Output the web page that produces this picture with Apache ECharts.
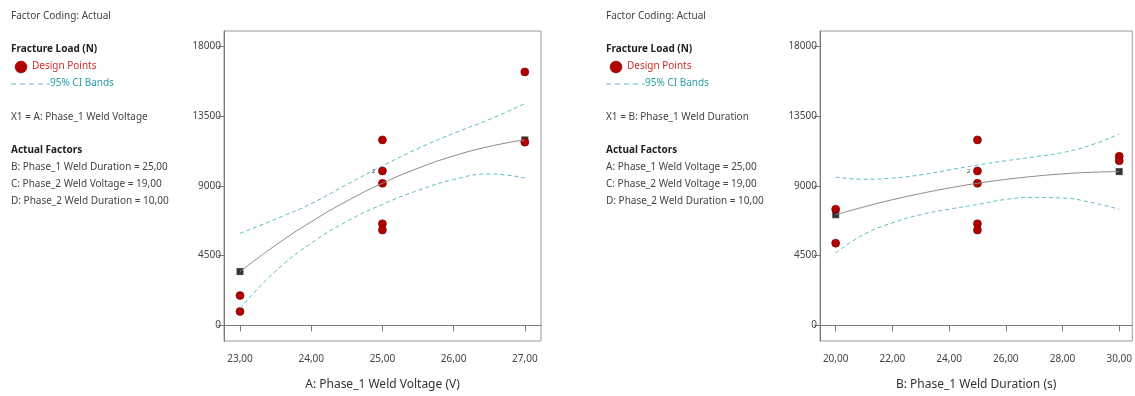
<!DOCTYPE html>
<html>
<head>
<meta charset="utf-8">
<script src="https://cdn.jsdelivr.net/npm/echarts@6/dist/echarts.min.js"></script>
<style>
  html, body { margin: 0; padding: 0; background: #fff; }
  #chart { width: 1135px; height: 396px; }
</style>
</head>
<body>
<div id="chart"></div>
<script>
// ---- data ----
var yTicks = [0, 4500, 9000, 13500, 18000];

// panel A: Phase_1 Weld Voltage
var xTicksA = [23, 24, 25, 26, 27];
var designXA = [23, 23, 25, 25, 25, 25, 25, 27, 27];
var designYA = [1930, 900, 11956, 9955, 9158, 6550, 6145, 16333, 11811];
var designCountA = [1, 1, 1, 2, 1, 1, 1, 1, 1];
var predXA = [23, 27];
var predYA = [3474, 11956];
var curveXA = [23, 23.5, 24, 24.5, 25, 25.5, 26, 26.5, 27];
var fitA = [3470, 5170, 6680, 8010, 9160, 10130, 10920, 11530, 11960];
var upperA = [5940, 6850, 7850, 9080, 10280, 11400, 12380, 13270, 14300];
var lowerA = [1100, 3500, 5300, 6700, 7800, 8700, 9400, 9760, 9500];

// panel B: Phase_1 Weld Duration
var xTicksB = [20, 22, 24, 26, 28, 30];
var designXB = [20, 20, 25, 25, 25, 25, 25, 30, 30];
var designYB = [7490, 5305, 11956, 9955, 9158, 6550, 6145, 10901, 10611];
var designCountB = [1, 1, 1, 2, 1, 1, 1, 1, 1];
var predXB = [20, 30];
var predYB = [7137, 9916];
var curveXB = [20, 21, 22, 23, 24, 25, 26, 27, 28, 29, 30];
var fitB = [7137, 7640, 8100, 8500, 8855, 9158, 9410, 9610, 9765, 9865, 9916];
var upperB = [9557, 9420, 9493, 9702, 10017, 10333, 10611, 10863, 11135, 11621, 12335];
var lowerB = [4674, 5874, 6607, 7137, 7490, 7790, 8122, 8248, 8210, 7932, 7490];

var infoA = {
  x1: "X1 = A: Phase_1 Weld Voltage",
  factors: ["B: Phase_1 Weld Duration = 25,00", "C: Phase_2 Weld Voltage = 19,00", "D: Phase_2 Weld Duration = 10,00"]
};
var infoB = {
  x1: "X1 = B: Phase_1 Weld Duration",
  factors: ["A: Phase_1 Weld Voltage = 25,00", "C: Phase_2 Weld Voltage = 19,00", "D: Phase_2 Weld Duration = 10,00"]
};

var FONT = "'Noto Sans', 'Open Sans', sans-serif";
var RED = "#b30000";
var TEAL = "#5cbcc2";

function zip(xs, ys) {
  return xs.map(function (x, i) { return [x, ys[i]]; });
}

function designData(xs, ys, counts) {
  return xs.map(function (x, i) {
    var item = { value: [x, ys[i]] };
    if (counts[i] > 1) {
      item.label = {
        show: true, position: "left", distance: 3,
        formatter: String(counts[i]), fontSize: 6, color: "#444", fontFamily: FONT
      };
    }
    return item;
  });
}

// text block left of each plot
function sideText(x0, info) {
  var t = function (x, y, text, opt) {
    return {
      type: "text", left: x, top: y,
      style: Object.assign({
        text: text, fontSize: 10, fontFamily: FONT, fill: "#444",
        verticalAlign: "middle"
      }, opt || {})
    };
  };
  var els = [
    t(x0, 11, "Factor Coding: Actual"),
    t(x0, 44, "Fracture Load (N)", { fontWeight: "bold", fill: "#222" }),
    {
      type: "circle", shape: { cx: x0 + 10, cy: 67, r: 6 },
      style: { fill: RED, stroke: "#700", lineWidth: 0.5 }
    },
    t(x0 + 21, 61, "Design Points", { fill: "#d42a2a" }),
    {
      type: "line", shape: { x1: x0, y1: 84, x2: x0 + 39, y2: 84 },
      style: { stroke: TEAL, lineWidth: 1, lineDash: [5, 4] }
    },
    t(x0 + 39, 78, "95% CI Bands", { fill: "#2a9ea4" }),
    t(x0, 112, info.x1),
    t(x0, 145, "Actual Factors", { fontWeight: "bold", fill: "#222" })
  ];
  info.factors.forEach(function (f, i) {
    els.push(t(x0, 162 + i * 17, f));
  });
  return els;
}

function xAxisCfg(idx, min, max, ticks, name) {
  return {
    type: "value", gridIndex: idx, min: min, max: max,
    name: name, nameLocation: "middle", nameGap: 38,
    nameTextStyle: { fontSize: 12, color: "#333", fontFamily: FONT },
    axisLine: { lineStyle: { color: "#7a7a7a" } },
    axisTick: { show: true, length: 6, customValues: ticks, lineStyle: { color: "#7a7a7a" } },
    axisLabel: {
      customValues: ticks, fontSize: 10, color: "#444", margin: 13, fontFamily: FONT,
      formatter: function (v) { return v.toFixed(2).replace(".", ","); }
    },
    splitLine: { show: false }
  };
}

function yAxisCfg(idx) {
  return {
    type: "value", gridIndex: idx, min: -1000, max: 18970,
    axisLine: { show: true, lineStyle: { color: "#7a7a7a" } },
    axisTick: { show: true, length: 6, customValues: yTicks, lineStyle: { color: "#7a7a7a" } },
    axisLabel: {
      customValues: yTicks, fontSize: 10, color: "#444", margin: 3, fontFamily: FONT,
      formatter: function (v) { return String(v); }
    },
    splitLine: { show: false }
  };
}

function panelSeries(idx, cx, fit, up, lo, px, py, dx, dy, dc) {
  var lineBase = { type: "line", xAxisIndex: idx, yAxisIndex: idx, smooth: true, symbol: "none", silent: true };
  return [
    Object.assign({}, lineBase, { data: zip(cx, up), lineStyle: { color: TEAL, width: 1, type: [4, 3] } }),
    Object.assign({}, lineBase, { data: zip(cx, lo), lineStyle: { color: TEAL, width: 1, type: [4, 3] } }),
    Object.assign({}, lineBase, { data: zip(cx, fit), lineStyle: { color: "#8a8a8a", width: 1 } }),
    {
      type: "scatter", xAxisIndex: idx, yAxisIndex: idx, symbol: "rect", symbolSize: 7,
      data: zip(px, py), itemStyle: { color: "#000", borderColor: "#bbb", borderWidth: 0.4 }
    },
    {
      type: "scatter", xAxisIndex: idx, yAxisIndex: idx, symbol: "circle", symbolSize: 8,
      data: designData(dx, dy, dc), itemStyle: { color: RED, borderColor: "#6a0000", borderWidth: 0.6, opacity: 1 }
    }
  ];
}

var chart = echarts.init(document.getElementById("chart"), null, { renderer: "canvas" });
chart.setOption({
  animation: false,
  backgroundColor: "#fff",
  grid: [
    { left: 224, right: 594, top: 31, bottom: 49, show: true, borderColor: "#9a9a9a", borderWidth: 1 },
    { left: 820, right: 2, top: 31, bottom: 49, show: true, borderColor: "#9a9a9a", borderWidth: 1 }
  ],
  xAxis: [
    xAxisCfg(0, 22.775, 27.227, xTicksA, "A: Phase_1 Weld Voltage (V)"),
    xAxisCfg(1, 19.447, 30.46, xTicksB, "B: Phase_1 Weld Duration (s)")
  ],
  yAxis: [yAxisCfg(0), yAxisCfg(1)],
  graphic: sideText(11, infoA).concat(sideText(606, infoB)),
  series: panelSeries(0, curveXA, fitA, upperA, lowerA, predXA, predYA, designXA, designYA, designCountA)
    .concat(panelSeries(1, curveXB, fitB, upperB, lowerB, predXB, predYB, designXB, designYB, designCountB))
});
</script>
</body>
</html>
